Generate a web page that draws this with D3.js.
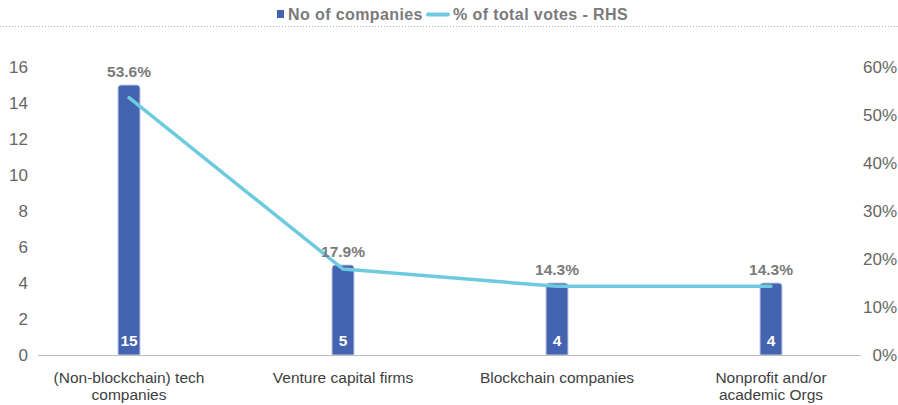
<!DOCTYPE html>
<html>
<head>
<meta charset="utf-8">
<script src="https://cdn.jsdelivr.net/npm/d3@7"></script>
<style>
  html, body { margin: 0; padding: 0; background: #fff; }
  svg { display: block; }
</style>
</head>
<body>
<svg id="chart" width="898" height="405"></svg>
<script>
// Company types and their counts / share of votes
const categories = [
  ["(Non-blockchain) tech", "companies"],
  ["Venture capital firms"],
  ["Blockchain companies"],
  ["Nonprofit and/or", "academic Orgs"]
];
const companyCounts = [15, 5, 4, 4];
const voteShare = [53.6, 17.9, 14.3, 14.3];
const leftTicks = [0, 2, 4, 6, 8, 10, 12, 14, 16];
const rightTicks = [0, 10, 20, 30, 40, 50, 60];
const legendLabels = ["No of companies", "% of total votes - RHS"];

const barColor = "#4463b0";
const lineColor = "#6ccbdf";
const tickColor = "#666666";
const labelFont = "'Liberation Sans', Arial, sans-serif";

const svg = d3.select("#chart");

const x = d3.scaleBand().domain(d3.range(categories.length)).range([22, 878]);
const yLeft = d3.scaleLinear().domain([0, 16]).range([355, 67]);
const yRight = d3.scaleLinear().domain([0, 60]).range([355, 67]);
const cx = i => x(i) + x.bandwidth() / 2;
const barW = 22;

// dotted rule under the legend
svg.append("line")
  .attr("x1", 0).attr("x2", 898).attr("y1", 26.5).attr("y2", 26.5)
  .attr("stroke", "#b0b0b0").attr("stroke-width", 1)
  .attr("stroke-dasharray", "1,2");

// legend
const legend = svg.append("g").attr("font-family", labelFont)
  .attr("font-weight", "bold").attr("font-size", 16).attr("letter-spacing", 0.4)
  .attr("fill", "#7a7a7a");
legend.append("rect").attr("x", 277).attr("y", 10).attr("width", 7).attr("height", 8).attr("fill", barColor);
legend.append("text").attr("x", 288).attr("y", 20).text(legendLabels[0]);
legend.append("line").attr("x1", 428).attr("x2", 448).attr("y1", 14.5).attr("y2", 14.5)
  .attr("stroke", lineColor).attr("stroke-width", 4).attr("stroke-linecap", "round");
legend.append("text").attr("x", 453).attr("y", 20).text(legendLabels[1]);

// left axis ticks
svg.append("g").selectAll("text").data(leftTicks).join("text")
  .attr("x", 28).attr("y", d => yLeft(d)).attr("dy", "0.36em")
  .attr("text-anchor", "end").attr("font-family", labelFont)
  .attr("font-size", 17).attr("fill", tickColor).text(d => d);

// right axis ticks
svg.append("g").selectAll("text").data(rightTicks).join("text")
  .attr("x", 897).attr("y", d => yRight(d)).attr("dy", "0.36em")
  .attr("text-anchor", "end").attr("font-family", labelFont)
  .attr("font-size", 17).attr("fill", tickColor).text(d => d + "%");

// bars with rounded tops
const r = 3;
svg.append("g").selectAll("path").data(companyCounts).join("path")
  .attr("d", (d, i) => {
    const x0 = cx(i) - barW / 2, x1 = cx(i) + barW / 2;
    const yt = yLeft(d), yb = yLeft(0);
    return `M${x0},${yb} V${yt + r} Q${x0},${yt} ${x0 + r},${yt} H${x1 - r} Q${x1},${yt} ${x1},${yt + r} V${yb} Z`;
  })
  .attr("fill", barColor).attr("stroke", "#c3cce6").attr("stroke-width", 1);

// baseline
svg.append("line").attr("x1", 38).attr("x2", 861).attr("y1", 355.5).attr("y2", 355.5)
  .attr("stroke", "#bdbdbd").attr("stroke-width", 1.2);

// count labels inside bars
svg.append("g").selectAll("text").data(companyCounts).join("text")
  .attr("x", (d, i) => cx(i)).attr("y", 345.5).attr("text-anchor", "middle")
  .attr("font-family", labelFont).attr("font-weight", "bold").attr("font-size", 15.5)
  .attr("fill", "#fff").text(d => d);

// share line on the right axis
const line = d3.line().x((d, i) => cx(i)).y(d => yRight(d));
svg.append("path").datum(voteShare).attr("d", line)
  .attr("fill", "none").attr("stroke", lineColor).attr("stroke-width", 3.5)
  .attr("stroke-linejoin", "round").attr("stroke-linecap", "round");

// share labels above bars
svg.append("g").selectAll("text").data(voteShare).join("text")
  .attr("x", (d, i) => cx(i)).attr("y", (d, i) => yLeft(companyCounts[i]) - 8.5)
  .attr("text-anchor", "middle").attr("font-family", labelFont)
  .attr("font-weight", "bold").attr("font-size", 15.5).attr("fill", "#7a7a7a")
  .text(d => d.toFixed(1) + "%");

// category labels
const cat = svg.append("g").attr("font-family", labelFont).attr("font-size", 15.5)
  .attr("fill", "#404040").attr("text-anchor", "middle");
categories.forEach((lines, i) => {
  const t = cat.append("text").attr("x", cx(i)).attr("y", 383);
  lines.forEach((s, k) => t.append("tspan").attr("x", cx(i)).attr("dy", k === 0 ? 0 : 17).text(s));
});
</script>
</body>
</html>
